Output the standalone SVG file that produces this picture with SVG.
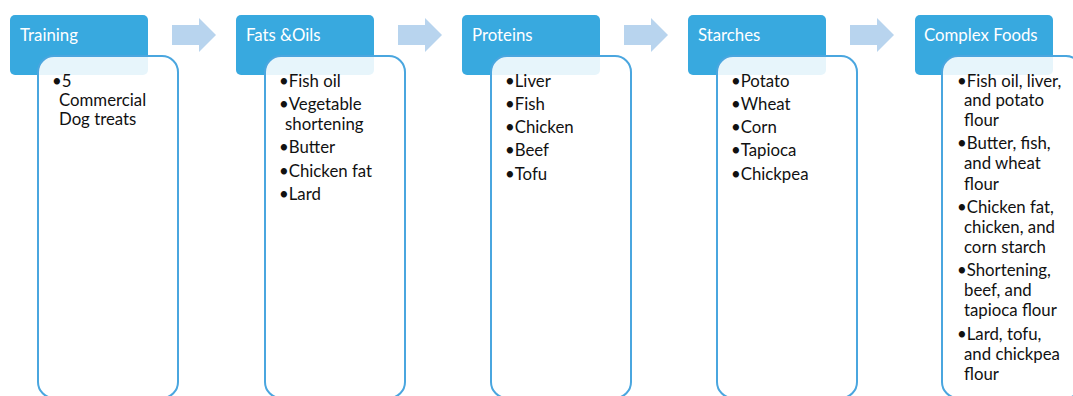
<svg xmlns="http://www.w3.org/2000/svg" width="1073" height="396" viewBox="0 0 1073 396">
<style>
.hdr{fill:#38a9df}
.body{fill:#ffffff;fill-opacity:0.88;stroke:#4aa6df;stroke-width:2}
.ht{font-family:Lato,"Open Sans",sans-serif;font-size:16.8px;fill:#ffffff}
.bt{font-family:Lato,"Open Sans",sans-serif;font-size:16.8px;fill:#111111}
.arr{fill:#b8d4ee}
</style>
<rect width="1073" height="396" fill="#ffffff"/>
<g id="connectors">
<polygon class="arr" points="172,25 199,25 199,18 216,35 199,52 199,45 172,45"/>
<polygon class="arr" points="398,25 425,25 425,18 442,35 425,52 425,45 398,45"/>
<polygon class="arr" points="624,25 651,25 651,18 668,35 651,52 651,45 624,45"/>
<polygon class="arr" points="850,25 877,25 877,18 894,35 877,52 877,45 850,45"/>
</g>
<g id="training">
<rect class="hdr" x="10" y="15" width="138" height="60" rx="5"/>
<text class="ht" x="20" y="41">Training</text>
<rect class="body" x="38" y="56" width="140" height="342" rx="16"/>
<text class="bt"><tspan x="52" y="87">•5</tspan><tspan x="59" y="106">Commercial</tspan><tspan x="59" y="125">Dog treats</tspan></text>
</g>
<g id="fats">
<rect class="hdr" x="236" y="15" width="138" height="60" rx="5"/>
<text class="ht" x="246" y="41">Fats &amp;Oils</text>
<rect class="body" x="265" y="56" width="140" height="342" rx="16"/>
<text class="bt"><tspan x="279" y="87">•Fish oil</tspan><tspan x="279" y="110">•Vegetable</tspan><tspan x="285" y="130">shortening</tspan><tspan x="279" y="153">•Butter</tspan><tspan x="279" y="177">•Chicken fat</tspan><tspan x="279" y="200">•Lard</tspan></text>
</g>
<g id="proteins">
<rect class="hdr" x="462" y="15" width="138" height="60" rx="5"/>
<text class="ht" x="472" y="41">Proteins</text>
<rect class="body" x="491" y="56" width="140" height="342" rx="16"/>
<text class="bt"><tspan x="505" y="87">•Liver</tspan><tspan x="505" y="110">•Fish</tspan><tspan x="505" y="133">•Chicken</tspan><tspan x="505" y="156">•Beef</tspan><tspan x="505" y="180">•Tofu</tspan></text>
</g>
<g id="starches">
<rect class="hdr" x="688" y="15" width="138" height="60" rx="5"/>
<text class="ht" x="698" y="41">Starches</text>
<rect class="body" x="717" y="56" width="140" height="342" rx="16"/>
<text class="bt"><tspan x="731" y="87">•Potato</tspan><tspan x="731" y="110">•Wheat</tspan><tspan x="731" y="133">•Corn</tspan><tspan x="731" y="156">•Tapioca</tspan><tspan x="731" y="180">•Chickpea</tspan></text>
</g>
<g id="complex">
<rect class="hdr" x="915" y="15" width="138" height="60" rx="5"/>
<text class="ht" x="924" y="41">Complex Foods</text>
<rect class="body" x="942" y="56" width="140" height="342" rx="16"/>
<text class="bt"><tspan x="957" y="87">•Fish oil, liver,</tspan><tspan x="964" y="106">and potato</tspan><tspan x="964" y="126">flour</tspan><tspan x="957" y="149">•Butter, fish,</tspan><tspan x="964" y="169">and wheat</tspan><tspan x="964" y="190">flour</tspan><tspan x="957" y="213">•Chicken fat,</tspan><tspan x="964" y="233">chicken, and</tspan><tspan x="964" y="253">corn starch</tspan><tspan x="957" y="276">•Shortening,</tspan><tspan x="964" y="296">beef, and</tspan><tspan x="964" y="316">tapioca flour</tspan><tspan x="957" y="340">•Lard, tofu,</tspan><tspan x="964" y="360">and chickpea</tspan><tspan x="964" y="380">flour</tspan></text>
</g>
</svg>
